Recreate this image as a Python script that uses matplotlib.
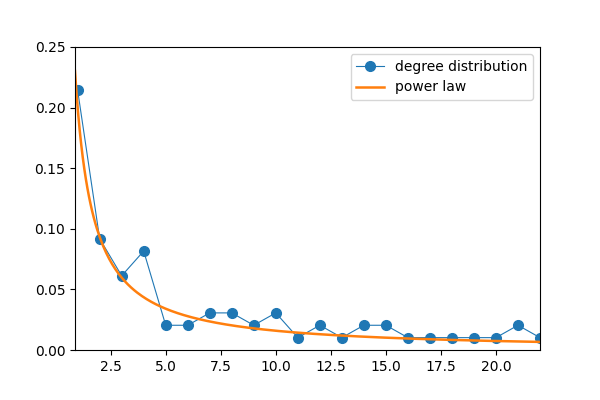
import numpy as np
import matplotlib
matplotlib.use("Agg")
import matplotlib.pyplot as plt

degree = list(range(1, 23))
counts = [21, 9, 6, 8, 2, 2, 3, 3, 2, 3, 1, 2, 1, 2, 2, 1, 1, 1, 1, 1, 2, 1]
total = 98
prob = [c / total for c in counts]

# fitted power law p(k) = a * k^-b
a = 0.2
b = 1.1

fig = plt.figure(figsize=(6, 4), dpi=100)
ax = fig.add_axes([0.125, 0.125, 0.775, 0.7575])

ax.plot(degree, prob, "o-", color="#1f77b4", lw=0.8, ms=7, label="degree distribution")
k = np.linspace(0.88, 22, 300)
ax.plot(k, a * k ** (-b), color="#ff7f0e", lw=1.8, label="power law")

ax.set_xlim(0.88, 22)
ax.set_ylim(0, 0.25)
ax.legend(loc="upper right")
fig.savefig("out.png")
